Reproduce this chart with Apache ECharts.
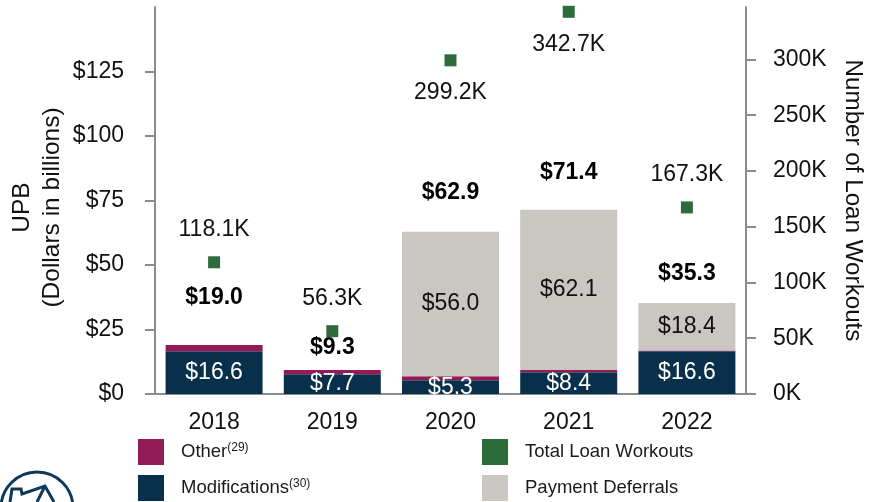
<!DOCTYPE html>
<html>
<head>
<meta charset="utf-8">
<script src="https://cdn.jsdelivr.net/npm/echarts@6/dist/echarts.min.js"></script>
<style>
  html, body { margin: 0; padding: 0; background: #fff; }
  #chart { width: 869px; height: 502px; }
</style>
</head>
<body>
<div id="chart"></div>
<script>
// data
const years = ['2018', '2019', '2020', '2021', '2022']
const modifications = [16.6, 7.7, 5.3, 8.4, 16.6]
const other = [2.4, 1.6, 1.6, 0.9, 0.3]
const deferrals = [0, 0, 56.0, 62.1, 18.4]
const totals = [19.0, 9.3, 62.9, 71.4, 35.3]
const workouts = [118.1, 56.3, 299.2, 342.7, 167.3] // thousands
const leftTicks = [0, 25, 50, 75, 100, 125]
const rightTicks = [0, 50, 100, 150, 200, 250, 300]

// label placement (manual in the original)
const totalLabelDist = [36, 11, 28, 26, 18]
const workoutLabelPos = ['top', 'top', 'bottom', 'bottom', 'top']

const FONT = 'Liberation Sans, Arial, sans-serif'
const NAVY = '#08304a'
const MAROON = '#931c58'
const GRAY = '#cac6c1'
const GREEN = '#2e6b3b'
const AXIS = '#8c8c8c'

const chart = echarts.init(document.getElementById('chart'))

const legendFormatter = name => {
  if (name === 'Other') return '{n|Other}{s|(29)}'
  if (name === 'Modifications') return '{n|Modifications}{s|(30)}'
  return '{n|' + name + '}'
}
const legendText = {
  color: '#1a1a1a',
  fontFamily: FONT,
  rich: {
    n: { fontSize: 18.5, fontFamily: FONT, color: '#1a1a1a', padding: [0, 0, 0, 12] },
    s: { fontSize: 12, fontFamily: FONT, color: '#1a1a1a', verticalAlign: 'top', padding: [0, 0, 8, 0] }
  }
}
// one legend per item so they sit in two columns
const legendSlot = (name, left, top) => ({
  data: [name], left, top,
  itemWidth: 26, itemHeight: 26, itemGap: 18,
  icon: 'rect', formatter: legendFormatter, textStyle: legendText,
  selectedMode: false, padding: 0
})

chart.setOption({
  animation: false,
  textStyle: { fontFamily: FONT },
  grid: { left: 155, right: 123, top: 7, bottom: 108, outerBoundsMode: 'none' },
  legend: [
    legendSlot('Other', 138, 439),
    legendSlot('Modifications', 138, 475),
    legendSlot('Total Loan Workouts', 482, 439),
    legendSlot('Payment Deferrals', 482, 475)
  ],
  xAxis: {
    type: 'category',
    data: years,
    axisLine: { lineStyle: { color: AXIS, width: 2 } },
    axisTick: { show: false },
    axisLabel: { fontSize: 23, color: '#111', margin: 17, fontFamily: FONT }
  },
  yAxis: [
    {
      type: 'value', min: 0, max: 150, interval: 25,
      name: 'UPB\n(Dollars in billions)',
      nameLocation: 'middle', nameGap: 88, nameMoveOverlap: false,
      nameTextStyle: { fontSize: 24.5, color: '#111', lineHeight: 30, fontFamily: FONT, padding: [0, 14, 0, 0] },
      axisLine: { show: true, lineStyle: { color: AXIS, width: 2 } },
      axisTick: { show: true, length: 10, lineStyle: { color: AXIS, width: 2 }, customValues: leftTicks },
      axisLabel: { fontSize: 23, color: '#111', margin: 31, fontFamily: FONT, customValues: leftTicks, formatter: v => '$' + v },
      splitLine: { show: false }
    },
    {
      type: 'value', min: 0, max: 347, position: 'right',
      name: 'Number of Loan Workouts',
      nameLocation: 'middle', nameGap: 95, nameRotate: -90, nameMoveOverlap: false,
      nameTextStyle: { fontSize: 24.2, color: '#111', fontFamily: FONT },
      axisLine: { show: true, lineStyle: { color: AXIS, width: 2 } },
      axisTick: { show: true, length: 10, lineStyle: { color: AXIS, width: 2 }, customValues: rightTicks },
      axisLabel: { fontSize: 23, color: '#111', margin: 27, fontFamily: FONT, customValues: rightTicks, formatter: v => v + 'K' },
      splitLine: { show: false }
    }
  ],
  series: [
    {
      name: 'Modifications', type: 'bar', stack: 'upb', barWidth: 97,
      data: modifications,
      itemStyle: { color: NAVY },
      label: { show: true, position: 'inside', color: '#fff', fontSize: 23, fontFamily: FONT, formatter: p => '$' + p.value.toFixed(1) }
    },
    {
      name: 'Other', type: 'bar', stack: 'upb', barWidth: 97,
      data: other,
      itemStyle: { color: MAROON }
    },
    {
      name: 'Payment Deferrals', type: 'bar', stack: 'upb', barWidth: 97,
      data: deferrals,
      itemStyle: { color: GRAY },
      label: { show: true, position: 'inside', color: '#111', fontSize: 23, fontFamily: FONT, formatter: p => p.value ? '$' + p.value.toFixed(1) : '' }
    },
    {
      name: 'Total', type: 'bar', barWidth: 97, barGap: '-100%', silent: true, z: 1,
      data: totals.map((v, i) => ({ value: v, label: { distance: totalLabelDist[i] } })),
      itemStyle: { color: 'rgba(0,0,0,0)' },
      label: { show: true, position: 'top', color: '#000', fontSize: 23, fontWeight: 'bold', fontFamily: FONT, formatter: p => '$' + p.value.toFixed(1) }
    },
    {
      name: 'Total Loan Workouts', type: 'scatter', yAxisIndex: 1,
      symbol: 'rect', symbolSize: 12, z: 3,
      data: workouts.map((v, i) => ({ value: v, label: { position: workoutLabelPos[i] } })),
      itemStyle: { color: GREEN, opacity: 1 },
      label: { show: true, distance: 15, color: '#111', fontSize: 23, fontFamily: FONT, formatter: p => p.value.toFixed(1) + 'K' }
    }
  ],
  graphic: [
    {
      type: 'circle', shape: { cx: 37, cy: 508, r: 36 },
      style: { fill: 'none', stroke: '#0d3a5c', lineWidth: 3 }, silent: true
    },
    {
      type: 'polyline', shape: { points: [[10, 502], [12, 489], [21, 489], [22, 494], [45, 486], [54, 502]] },
      style: { fill: 'none', stroke: '#0d3a5c', lineWidth: 3 }, silent: true
    },
    {
      type: 'polyline', shape: { points: [[45, 486], [37, 502]] },
      style: { fill: 'none', stroke: '#0d3a5c', lineWidth: 3 }, silent: true
    }
  ]
})
</script>
</body>
</html>
